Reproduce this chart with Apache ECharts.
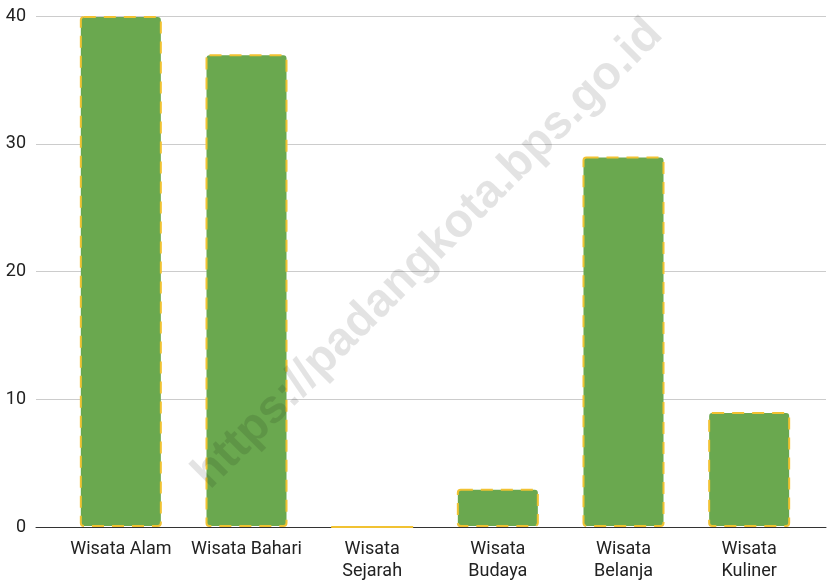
<!DOCTYPE html>
<html style="height:100%">
<head>
  <meta charset="UTF-8">
  <title>Wisata</title>
  <script src="https://cdn.jsdelivr.net/npm/echarts/dist/echarts.min.js"></script>
  <style>
    html, body { margin: 0; padding: 0; background: #fff; }
    #chart { width: 831px; height: 584px; }
  </style>
</head>
<body>
<div id="chart"></div>
<script>
  // data
  var categories = ['Wisata Alam', 'Wisata Bahari', 'Wisata Sejarah', 'Wisata Budaya', 'Wisata Belanja', 'Wisata Kuliner'];
  var tickLabels = ['Wisata Alam', 'Wisata Bahari', 'Wisata\nSejarah', 'Wisata\nBudaya', 'Wisata\nBelanja', 'Wisata\nKuliner'];
  var values = [40, 37, 0, 3, 29, 9];
  var watermark = 'https://padangkota.bps.go.id';

  var myChart = echarts.init(document.getElementById('chart'));

  var option = {
    animation: false,
    textStyle: { fontFamily: 'Roboto' },
    // grid 0 carries gridlines + y labels, grid 1 carries the bars
    grid: [
      { left: 36, right: 5, top: 16, bottom: 57 },
      { left: 58, right: 19, top: 16, bottom: 57 }
    ],
    xAxis: [
      {
        gridIndex: 0, type: 'category', data: categories,
        axisLine: { lineStyle: { color: '#333', width: 1 } },
        axisTick: { show: false }, axisLabel: { show: false }
      },
      {
        gridIndex: 1, type: 'category', data: categories,
        axisLine: { show: false }, axisTick: { show: false },
        axisLabel: {
          interval: 0, hideOverlap: false,
          margin: 11, fontSize: 18, color: '#222', lineHeight: 22,
          formatter: function (v, i) { return tickLabels[i]; }
        }
      }
    ],
    yAxis: [
      {
        gridIndex: 0, type: 'value', min: 0, max: 40, interval: 10,
        axisLine: { show: false }, axisTick: { show: false },
        axisLabel: { margin: 10, fontSize: 18, color: '#222' },
        splitLine: { lineStyle: { color: '#cccccc', width: 1 } }
      },
      {
        gridIndex: 1, type: 'value', min: 0, max: 40, interval: 10,
        show: false, splitLine: { show: false }
      }
    ],
    series: [
      {
        type: 'bar',
        xAxisIndex: 1, yAxisIndex: 1,
        data: values,
        barWidth: 82,
        itemStyle: {
          color: '#6aa84f',
          borderColor: '#f1c232',
          borderWidth: 2,
          borderType: [12, 8],
          borderRadius: 3
        }
      }
    ],
    graphic: [
      {
        type: 'text',
        x: 428, y: 254,
        rotation: Math.PI / 4,
        silent: true,
        z: 100,
        style: {
          text: watermark,
          font: 'bold 47px "Liberation Sans", Arial, sans-serif',
          fill: 'rgba(0,0,0,0.11)',
          align: 'center',
          verticalAlign: 'middle'
        }
      }
    ]
  };

  myChart.setOption(option);
</script>
</body>
</html>
